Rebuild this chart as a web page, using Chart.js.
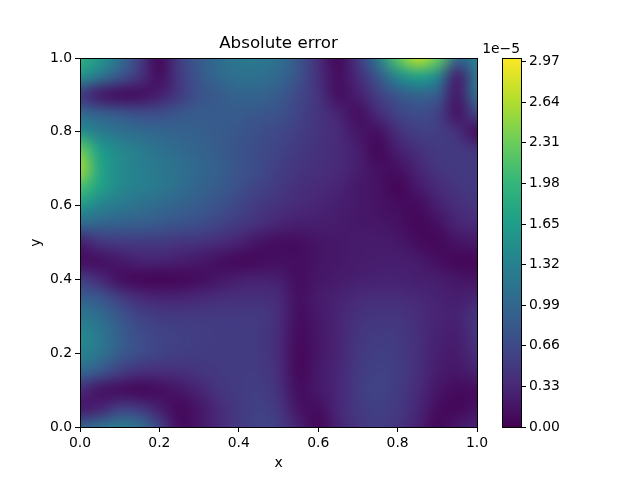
<!DOCTYPE html>
<html><head><meta charset="utf-8">
<style>html,body{margin:0;padding:0;background:#fff}#w{position:relative;width:640px;height:480px;overflow:hidden}
canvas{position:absolute;top:0}</style>
<script src="https://cdn.jsdelivr.net/npm/chart.js@4"></script></head>
<body><div id="w"><canvas id="main" width="640" height="480" style="left:0;width:640px;height:480px"></canvas>
<canvas id="bar" width="180" height="480" style="left:460px;width:180px;height:480px"></canvas></div>
<script>
const xValues=[0,.05,.1,.15,.2,.25,.3,.35,.4,.45,.5,.55,.6,.65,.7,.75,.8,.85,.9,.95,1];
const yValues=[1,.95,.9,.85,.8,.75,.7,.65,.6,.55,.5,.45,.4,.35,.3,.25,.2,.15,.1,.05,0];
// absolute error in units of 1e-5, one row per y value (top to bottom)
const errorRows=[
[1.9,1.6,1.1,.55,.05,.55,.85,1.05,1.2,1.2,1.1,.8,.4,.05,.5,1.2,2.2,2.7,2.3,1.0,1.3],
[1.5,1.15,.8,.45,.1,.5,.8,1.0,1.1,1.1,1.0,.75,.4,.1,.35,.8,1.4,1.7,1.4,.25,1.2],
[.5,.2,.1,.12,.25,.5,.75,.85,.95,.95,.85,.65,.45,.12,.25,.55,.8,.95,.85,.2,1.1],
[1.0,.9,.8,.7,.7,.8,.85,.85,.85,.8,.75,.6,.45,.3,.1,.35,.6,.7,.6,.15,.6],
[1.5,1.25,1.12,1.02,.98,.93,.9,.85,.8,.72,.65,.55,.45,.35,.18,.12,.4,.55,.55,.4,.1],
[2.3,1.65,1.4,1.25,1.12,1.02,.95,.85,.76,.68,.6,.5,.42,.35,.25,.05,.25,.4,.5,.5,.45],
[2.55,1.75,1.45,1.3,1.2,1.1,1.0,.9,.78,.68,.55,.45,.4,.35,.25,.12,.12,.3,.45,.5,.5],
[2.1,1.7,1.4,1.3,1.2,1.08,.95,.85,.72,.6,.5,.4,.35,.3,.2,.15,.03,.2,.35,.45,.5],
[1.6,1.35,1.2,1.1,1.02,.93,.85,.75,.62,.5,.42,.35,.3,.25,.2,.15,.1,.08,.25,.38,.45],
[1.0,.95,.9,.88,.82,.75,.7,.6,.5,.4,.3,.25,.25,.22,.2,.18,.14,.05,.12,.3,.35],
[.25,.45,.5,.5,.5,.45,.42,.36,.28,.15,.1,.1,.16,.2,.22,.22,.2,.1,.06,.15,.2],
[.1,.12,.2,.28,.28,.25,.2,.12,.06,.08,.12,.1,.16,.2,.22,.24,.25,.22,.12,.05,.06],
[.55,.35,.12,.05,.03,.05,.1,.18,.25,.28,.25,.1,.18,.22,.26,.28,.28,.26,.24,.18,.15],
[.9,.8,.55,.35,.3,.3,.33,.38,.4,.4,.35,.12,.22,.28,.35,.38,.38,.33,.28,.25,.3],
[1.2,1.05,.8,.6,.52,.5,.5,.5,.5,.5,.38,.1,.2,.3,.42,.46,.45,.38,.3,.28,.45],
[1.4,1.2,.9,.7,.6,.57,.55,.52,.52,.5,.36,.08,.18,.3,.46,.52,.5,.4,.28,.25,.45],
[1.35,1.15,.85,.7,.6,.55,.52,.52,.52,.5,.36,.06,.18,.3,.48,.56,.52,.4,.26,.22,.38],
[1.0,.8,.55,.4,.38,.4,.45,.5,.52,.52,.38,.06,.2,.32,.5,.58,.54,.4,.23,.18,.28],
[.35,.15,.1,.05,.1,.18,.3,.45,.52,.55,.42,.1,.2,.32,.52,.6,.52,.36,.18,.08,.1],
[.2,.3,.55,.5,.25,.06,.18,.35,.5,.58,.48,.15,.1,.32,.5,.56,.5,.32,.1,.05,.15],
[.9,1.1,1.25,1.1,.6,.1,.18,.35,.5,.6,.55,.28,.05,.28,.45,.55,.45,.28,.05,.2,.3]
];
const colorbarTicks=[0,.33,.66,.99,1.32,1.65,1.98,2.31,2.64,2.97];
const axisTicks=[0,.2,.4,.6,.8,1];
const vMax=3.0;
const viridis=[[68,1,84],[72,40,120],[62,74,137],[49,104,142],[38,130,142],[31,158,137],[53,183,121],[110,206,88],[181,222,43],[253,231,37]];
function colorFor(v){
  const t=Math.max(0,Math.min(1,v/vMax))*(viridis.length-1);
  const i=Math.min(viridis.length-2,Math.floor(t)),f=t-i;
  const c=viridis[i].map((a,k)=>Math.round(a+(viridis[i+1][k]-a)*f));
  return `rgb(${c[0]},${c[1]},${c[2]})`;
}
const cells=[];
errorRows.forEach((row,r)=>row.forEach((v,c)=>cells.push({x:xValues[c],y:yValues[r],v})));
const FONT='"DejaVu Sans"';
Chart.defaults.font.family=FONT;
Chart.defaults.color='#000';
const frame={id:'frame',afterDraw(ch){const a=ch.chartArea,c=ch.ctx;c.save();c.strokeStyle='#000';c.lineWidth=1;
  c.strokeRect(Math.round(a.left)+.5,Math.round(a.top)+.5,Math.round(a.right-a.left),Math.round(a.bottom-a.top));c.restore();}};
const smooth={id:'smooth',afterDatasetsDraw(ch){
  const off=document.createElement('canvas');off.width=xValues.length;off.height=yValues.length;
  const o=off.getContext('2d');
  errorRows.forEach((row,r)=>row.forEach((v,c)=>{o.fillStyle=colorFor(v);o.fillRect(c,r,1,1);}));
  const X=ch.scales.x,Y=ch.scales.y,c=ch.ctx;
  const x0=X.getPixelForValue(0),x1=X.getPixelForValue(1),y0=Y.getPixelForValue(1),y1=Y.getPixelForValue(0);
  c.save();c.beginPath();c.rect(x0,y0,x1-x0,y1-y0);c.clip();
  c.imageSmoothingEnabled=true;c.imageSmoothingQuality='high';
  c.drawImage(off,.5,.5,off.width-1,off.height-1,x0,y0,x1-x0,y1-y0);c.restore();
}};
const barBackdrop={id:'barBackdrop',beforeDatasetsDraw(ch){const a=ch.chartArea,c=ch.ctx;c.save();c.fillStyle=colorFor(0);
  c.fillRect(a.left,a.top,a.right-a.left,a.bottom-a.top+1);c.restore();}};
const offsetText={id:'offsetText',afterDraw(ch){const a=ch.chartArea,c=ch.ctx;c.save();c.fillStyle='#000';
  c.font='13.9px '+FONT;c.textAlign='right';c.textBaseline='alphabetic';c.fillText('1e\u22125',a.right-1,a.top-5);c.restore();}};
const tickCommon={font:{size:13.9,family:FONT},color:'#000',padding:3};
const gridCommon={display:true,drawOnChartArea:false,drawTicks:true,tickLength:5,tickColor:'#000',tickWidth:1,color:'#000'};
new Chart(document.getElementById('main'),{
  type:'scatter',
  data:{datasets:[{data:cells,pointStyle:'rect',pointRadius:15,pointHoverRadius:15,borderWidth:0,
    backgroundColor:cells.map(p=>colorFor(p.v))}]},
  plugins:[smooth,frame],
  options:{responsive:false,animation:false,events:[],
    layout:{padding:{top:34,right:163,left:0,bottom:0}},
    plugins:{legend:{display:false},tooltip:{enabled:false},
      title:{display:true,text:'Absolute error',fullSize:false,color:'#000',font:{size:16.7,weight:'normal',family:FONT},padding:{top:0,bottom:4}}},
    scales:{
      x:{type:'linear',min:0,max:1,afterFit(s){s.height=53;},afterBuildTicks(s){s.ticks=axisTicks.map(value=>({value}));},
        ticks:{...tickCommon,maxRotation:0,callback:v=>v.toFixed(1)},grid:gridCommon,border:{display:false},
        title:{display:true,text:'x',font:{size:13.9,family:FONT},color:'#000',padding:{top:5,bottom:8}}},
      y:{type:'linear',min:0,max:1,afterFit(s){s.width=80;},afterBuildTicks(s){s.ticks=axisTicks.map(value=>({value}));},
        ticks:{...tickCommon,callback:v=>v.toFixed(1)},grid:gridCommon,border:{display:false},
        title:{display:true,text:'y',font:{size:13.9,family:FONT},color:'#000',padding:{top:28,bottom:0}}}
    }
  }
});
new Chart(document.getElementById('bar'),{
  type:'bar',
  data:{labels:[''],datasets:[{data:[[0,vMax]],barPercentage:1,categoryPercentage:1,borderWidth:0,
    backgroundColor(ctx){const a=ctx.chart.chartArea;if(!a)return '#000';
      const g=ctx.chart.ctx.createLinearGradient(0,a.bottom,0,a.top);
      viridis.forEach((c,i)=>g.addColorStop(i/(viridis.length-1),`rgb(${c[0]},${c[1]},${c[2]})`));return g;}}]},
  plugins:[barBackdrop,frame,offsetText],
  options:{responsive:false,animation:false,events:[],
    layout:{padding:{top:58,left:42,right:0,bottom:53}},
    plugins:{legend:{display:false},tooltip:{enabled:false}},
    scales:{
      x:{display:false},
      y:{position:'right',min:0,max:vMax,afterFit(s){s.width=119;},afterBuildTicks(s){s.ticks=colorbarTicks.map(value=>({value}));},
        ticks:{...tickCommon,callback:v=>v.toFixed(2)},grid:gridCommon,border:{display:false}}
    }
  }
});
</script></body></html>
